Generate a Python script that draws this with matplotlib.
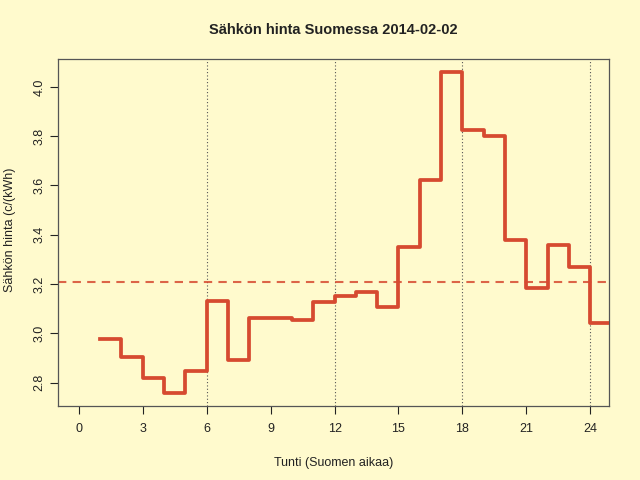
import numpy as np
import matplotlib
matplotlib.use('Agg')
import matplotlib.pyplot as plt

# hourly price, c/kWh, hours 1..24
hours = list(range(1, 25))
prices = [2.978, 2.905, 2.820, 2.759, 2.845, 3.132, 2.893, 3.063, 3.063, 3.055,
          3.128, 3.153, 3.169, 3.108, 3.351, 3.623, 4.060, 3.826, 3.800, 3.380,
          3.185, 3.359, 3.270, 3.040]
x_ticks = [0, 3, 6, 9, 12, 15, 18, 21, 24]
y_ticks = [2.8, 3.0, 3.2, 3.4, 3.6, 3.8, 4.0]
day_marks = [6, 12, 18, 24]

bg = '#FFFACD'
red = '#D64A30'
txt = '#222222'

plt.rcParams['font.family'] = ['Liberation Sans', 'DejaVu Sans']

fig = plt.figure(figsize=(6.4, 4.8), dpi=100, facecolor=bg)
ax = fig.add_axes([58/640, 1 - 406/480, (609-58)/640, (406-59)/480])
ax.set_facecolor(bg)

for d in day_marks:
    ax.axvline(d, color='#555555', lw=0.8, ls=(0, (1, 2)), zorder=1)

ax.axhline(np.mean(prices), color=red, lw=1.5, ls=(0, (4, 3)), alpha=0.85, zorder=2)

xs = hours + [25]
ys = prices + [prices[-1]]
ax.step(xs, ys, where='post', color=red, lw=2.7, zorder=3)

ax.set_xlim(-0.98, 24.88)
ax.set_ylim(2.705, 4.113)
ax.set_xticks(x_ticks)
ax.set_yticks(y_ticks)
ax.set_yticklabels([f'{v:.1f}' for v in y_ticks], rotation=90, va='center')
ax.tick_params(colors=txt, labelsize=9, length=6, width=0.8, pad=6)
ax.tick_params(axis='y', pad=3)
for s in ax.spines.values():
    s.set_color('#555555')
    s.set_linewidth(0.9)

ax.set_xlabel('Tunti (Suomen aikaa)', fontsize=9, color=txt)
ax.xaxis.set_label_coords(0.5, -(457 - 406) / 347)
ax.set_ylabel('Sähkön hinta (c/(kWh)', fontsize=9, color=txt, va='center')
ax.yaxis.set_label_coords(-(58 - 10) / 551, (406 - 230) / 347)
fig.text((58 + 609) / 2 / 640, 1 - 30/480, 'Sähkön hinta Suomessa 2014-02-02',
         ha='center', va='center', fontsize=10.5, fontweight='bold', color=txt)

fig.savefig('out.png', dpi=100, facecolor=bg)
